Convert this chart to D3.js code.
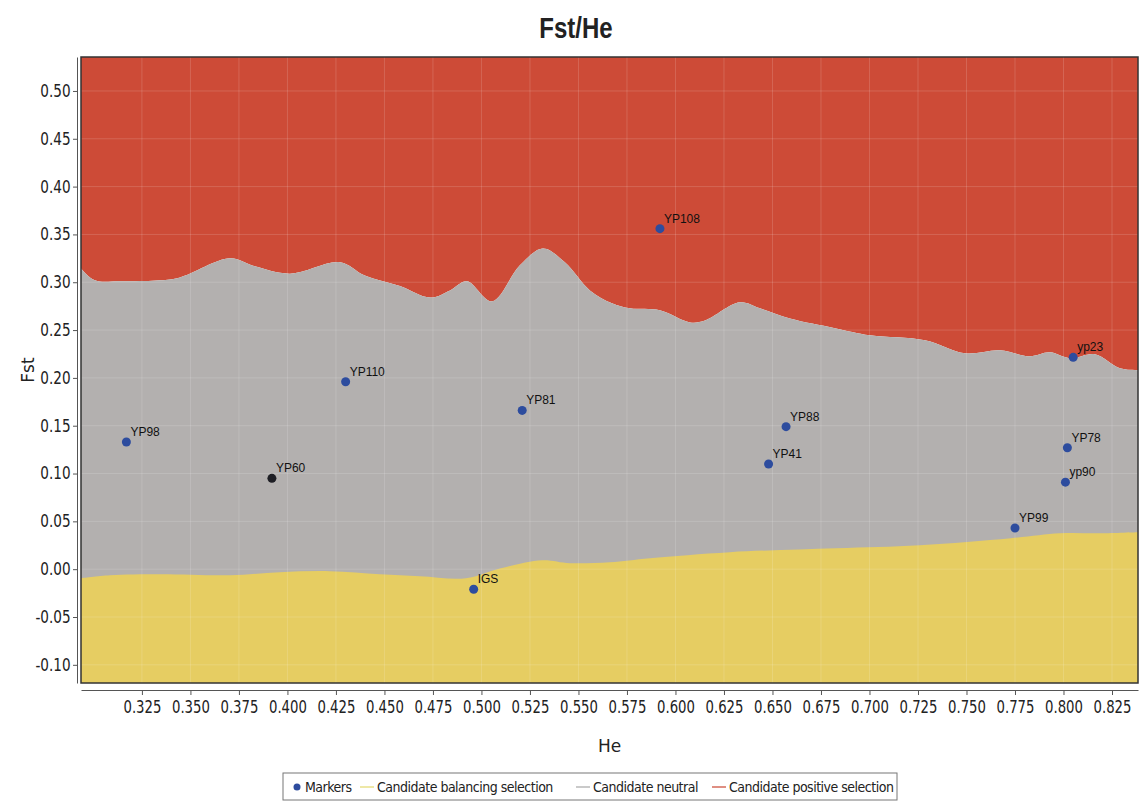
<!DOCTYPE html>
<html>
<head>
<meta charset="utf-8">
<script src="https://cdn.jsdelivr.net/npm/d3@7"></script>
<style>
  body { margin: 0; background: #fff; }
  .axis text { font-family: "DejaVu Sans", sans-serif; fill: #222; }
  .axis path, .axis line { stroke: #555; }
</style>
</head>
<body>
<div class="chart"></div>
<script>
// Boundary between neutral and positive selection
const upperHe = [0.2936,0.3008,0.3137,0.3343,0.3446,0.3704,0.3832,0.4013,0.4271,0.4399,0.458,0.4735,0.4838,0.4925,0.5054,0.5198,0.5317,0.543,0.5559,0.5673,0.5765,0.592,0.6075,0.6152,0.6332,0.6436,0.659,0.6822,0.7003,0.7286,0.7492,0.7673,0.7827,0.793,0.8034,0.8162,0.8291,0.8384];
const upperFst = [0.3145,0.302,0.301,0.302,0.305,0.325,0.3166,0.309,0.321,0.307,0.296,0.284,0.2915,0.301,0.280,0.3177,0.3354,0.3208,0.2915,0.278,0.2727,0.2706,0.258,0.260,0.279,0.2727,0.262,0.252,0.2445,0.2393,0.2257,0.2288,0.2226,0.2267,0.2205,0.2247,0.210,0.208];

// Boundary between balancing selection and neutral
const lowerHe = [0.2936,0.3085,0.3343,0.3704,0.3961,0.4219,0.4477,0.4683,0.492,0.510,0.5312,0.5456,0.5662,0.5869,0.6281,0.6827,0.726,0.7729,0.7982,0.8188,0.8384];
const lowerFst = [-0.0094,-0.0063,-0.0052,-0.0063,-0.0031,-0.0021,-0.0052,-0.0073,-0.0094,0.001,0.0094,0.0063,0.0073,0.0115,0.0178,0.0219,0.0251,0.0324,0.0376,0.0376,0.0387];

// Markers
const markerNames = ["YP98","YP60","YP110","IGS","YP81","YP108","YP41","YP88","YP99","yp90","YP78","yp23"];
const markerHe = [0.317,0.392,0.430,0.496,0.521,0.592,0.648,0.657,0.775,0.801,0.802,0.805];
const markerFst = [0.133,0.095,0.196,-0.021,0.166,0.356,0.110,0.149,0.043,0.091,0.127,0.2215];

// Tick labels
const xTicks = [0.325,0.350,0.375,0.400,0.425,0.450,0.475,0.500,0.525,0.550,0.575,0.600,0.625,0.650,0.675,0.700,0.725,0.750,0.775,0.800,0.825];
const yTicks = [-0.10,-0.05,0.00,0.05,0.10,0.15,0.20,0.25,0.30,0.35,0.40,0.45,0.50];

const legendLabels = ["Markers","Candidate balancing selection","Candidate neutral","Candidate positive selection"];

let svgWidth = 1140;
let svgHeight = 804;
let margin = {top: 57, right: 2, bottom: 121, left: 81};
let width = svgWidth - margin.left - margin.right;
let height = svgHeight - margin.top - margin.bottom;

const red = "#cd4b37", grey = "#b3b0af", yellow = "#e6cd62", blue = "#2d4c9e";

let svg = d3.select(".chart").append("svg").attr("width", svgWidth).attr("height", svgHeight);
let chartGroup = svg.append("g").attr("transform", `translate(${margin.left}, ${margin.top})`);

let xScale = d3.scaleLinear().domain([0.2936, 0.8384]).range([0, width]);
let yScale = d3.scaleLinear().domain([-0.119, 0.5355]).range([height, 0]);

let upper = upperHe.map((h, i) => ({he: h, fst: upperFst[i]}));
let lower = lowerHe.map((h, i) => ({he: h, fst: lowerFst[i]}));
let curve = d3.curveCatmullRom.alpha(0.5);

// positive selection region (top)
chartGroup.append("path")
  .datum(upper)
  .attr("fill", red)
  .attr("d", d3.area().curve(curve).x(d => xScale(d.he)).y0(0).y1(d => yScale(d.fst)));

// neutral region
chartGroup.append("path")
  .datum(upper)
  .attr("fill", grey)
  .attr("d", d3.area().curve(curve).x(d => xScale(d.he)).y0(height).y1(d => yScale(d.fst)));

// balancing region (bottom)
chartGroup.append("path")
  .datum(lower)
  .attr("fill", yellow)
  .attr("d", d3.area().curve(curve).x(d => xScale(d.he)).y0(height).y1(d => yScale(d.fst)));

// faint grid
chartGroup.append("g").selectAll("line").data(xTicks).enter().append("line")
  .attr("x1", d => xScale(d)).attr("x2", d => xScale(d))
  .attr("y1", 0).attr("y2", height)
  .attr("stroke", "#fff").attr("stroke-opacity", 0.15).attr("stroke-width", 1);
chartGroup.append("g").selectAll("line").data(yTicks).enter().append("line")
  .attr("x1", 0).attr("x2", width)
  .attr("y1", d => yScale(d)).attr("y2", d => yScale(d))
  .attr("stroke", "#fff").attr("stroke-opacity", 0.15).attr("stroke-width", 1);

// plot border
chartGroup.append("rect")
  .attr("x", 0).attr("y", 0).attr("width", width).attr("height", height)
  .attr("fill", "none").attr("stroke", "#333").attr("stroke-width", 1.5);

// markers
let markers = markerNames.map((n, i) => ({name: n, he: markerHe[i], fst: markerFst[i]}));
chartGroup.selectAll("circle.marker")
  .data(markers)
  .enter()
  .append("circle")
  .attr("class", "marker")
  .attr("cx", d => xScale(d.he))
  .attr("cy", d => yScale(d.fst))
  .attr("r", 4.5)
  .attr("fill", d => d.name === "YP60" ? "#1e1e24" : blue);

chartGroup.selectAll("text.mlabel")
  .data(markers)
  .enter()
  .append("text")
  .attr("class", "mlabel")
  .attr("x", d => xScale(d.he) + 4)
  .attr("y", d => yScale(d.fst) - 6)
  .style("font-family", "Liberation Sans, Arial, sans-serif")
  .style("font-size", "12px")
  .attr("fill", "#111")
  .text(d => d.name);

// axes (plain hyphen for negatives, like the original)
let bottomAxis = d3.axisBottom(xScale).tickValues(xTicks).tickFormat(d => d.toFixed(3)).tickSize(5).tickSizeOuter(0);
let leftAxis = d3.axisLeft(yScale).tickValues(yTicks).tickFormat(d => d.toFixed(2)).tickSize(4).tickSizeOuter(0);

let xAxisG = svg.append("g")
  .attr("class", "axis x-axis")
  .attr("transform", `translate(${margin.left}, ${margin.top + height + 7})`)
  .call(bottomAxis);
xAxisG.selectAll(".tick text")
  .style("font-size", "17px")
  .attr("y", 9)
  .attr("dy", "0.8em")
  .attr("transform", "scale(0.78,1)");

let yAxisG = svg.append("g")
  .attr("class", "axis y-axis")
  .attr("transform", `translate(${margin.left - 4}, ${margin.top})`)
  .call(leftAxis);
yAxisG.selectAll(".tick text")
  .style("font-size", "17px")
  .attr("x", -8)
  .attr("transform", "scale(0.8,1)");

// axis titles
svg.append("text")
  .attr("text-anchor", "middle")
  .attr("x", margin.left + width / 2)
  .attr("y", 752)
  .style("font-family", "DejaVu Sans, sans-serif")
  .style("font-size", "17px")
  .attr("fill", "#222")
  .text("He");

svg.append("text")
  .attr("text-anchor", "middle")
  .attr("transform", `translate(34, ${margin.top + height / 2}) rotate(-90)`)
  .style("font-family", "DejaVu Sans, sans-serif")
  .style("font-size", "17px")
  .attr("fill", "#222")
  .text("Fst");

// chart title
svg.append("text")
  .attr("text-anchor", "middle")
  .attr("transform", "translate(576, 38) scale(0.8,1)")
  .style("font-family", "Liberation Sans, Arial, sans-serif")
  .style("font-weight", "bold")
  .style("font-size", "30px")
  .attr("fill", "#222")
  .text("Fst/He");

// legend
let legend = svg.append("g").attr("transform", "translate(283, 773)");
legend.append("rect").attr("width", 614).attr("height", 27)
  .attr("fill", "#fff").attr("stroke", "#777").attr("stroke-width", 1);
const legendX = [14, 77, 293, 429];
const legendColors = [blue, "#e9e08a", "#b8b8b8", "#d46a5a"];
legendLabels.forEach(function(lbl, i) {
  let g = legend.append("g").attr("transform", `translate(${legendX[i]}, 14)`);
  if (i === 0) {
    g.append("circle").attr("cx", 0).attr("cy", 0).attr("r", 3.5).attr("fill", legendColors[i]);
  } else {
    g.append("line").attr("x1", 0).attr("x2", 14).attr("y1", 0).attr("y2", 0)
      .attr("stroke", legendColors[i]).attr("stroke-width", 1.5);
  }
  g.append("text")
    .attr("x", i === 0 ? 8 : 17)
    .attr("y", 5)
    .style("font-family", "DejaVu Sans, sans-serif")
    .style("font-stretch", "condensed")
    .style("font-size", "14px")
    .style("letter-spacing", "-0.5px")
    .attr("fill", "#222")
    .text(lbl);
});
</script>
</body>
</html>
